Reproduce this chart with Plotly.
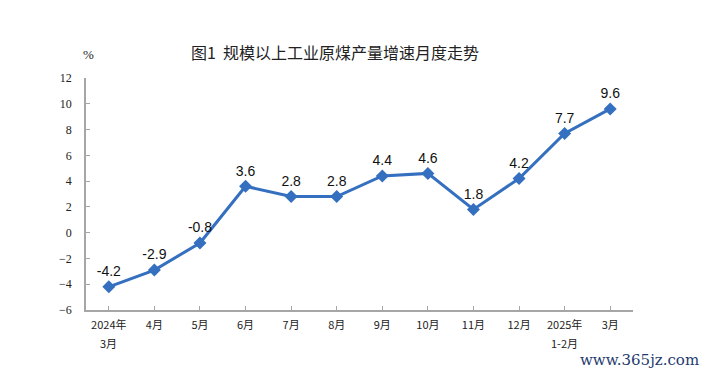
import plotly.graph_objects as go

categories = ["2024年<br>3月", "4月", "5月", "6月", "7月", "8月", "9月", "10月", "11月", "12月", "2025年<br>1-2月", "3月"]
values = [-4.2, -2.9, -0.8, 3.6, 2.8, 2.8, 4.4, 4.6, 1.8, 4.2, 7.7, 9.6]
y_ticks = [-6, -4, -2, 0, 2, 4, 6, 8, 10, 12]

line_color = "#3470bf"
axis_color = "#a6a6a6"

xs = list(range(len(categories)))
first_lines = [c.split("<br>")[0] for c in categories]
second_lines = [(i, c.split("<br>")[1]) for i, c in enumerate(categories) if "<br>" in c]

fig = go.Figure()
fig.add_trace(go.Scatter(
    x=xs, y=values,
    mode="lines+markers+text",
    line=dict(color=line_color, width=3),
    marker=dict(symbol="diamond", size=10, color=line_color),
    text=[f"{v:.1f}" for v in values],
    textposition="top center",
    textfont=dict(family="Liberation Sans, Arial", size=14, color="#111111"),
    cliponaxis=False,
    hoverinfo="skip",
))

annotations = [
    dict(text="图1  规模以上工业原煤产量增速月度走势", xref="paper", yref="paper",
         x=0.455, y=1.0, yshift=26, showarrow=False, xanchor="center", yanchor="middle",
         font=dict(family="Noto Sans CJK SC", size=16, color="#222222")),
    dict(text="%", xref="paper", yref="paper", x=0, y=1.0, yshift=24, xshift=2,
         showarrow=False, xanchor="center", yanchor="middle",
         font=dict(family="Liberation Serif", size=13, color="#222222")),
    dict(text="www.365jz.com", xref="paper", yref="paper", x=1.0, y=0, xshift=68, yshift=-50,
         showarrow=False, xanchor="right", yanchor="middle",
         font=dict(family="DejaVu Serif", size=15, color="#1f3b6e")),
]
for i, t in second_lines:
    annotations.append(dict(text=t, xref="x", yref="paper", x=i, y=0, yshift=-33,
                            showarrow=False, xanchor="center", yanchor="middle",
                            font=dict(family="Noto Sans CJK SC", size=11, color="#222222")))

fig.update_layout(
    width=705, height=374,
    margin=dict(l=86, r=72, t=78, b=64),
    paper_bgcolor="white", plot_bgcolor="white",
    showlegend=False,
    xaxis=dict(
        tickmode="array", tickvals=xs, ticktext=first_lines,
        range=[-0.5, len(categories) - 0.5],
        showgrid=False, zeroline=False,
        showline=True, linecolor=axis_color, linewidth=1.5,
        ticks="inside", ticklen=4, tickcolor=axis_color, tickson="boundaries",
        tickfont=dict(family="Noto Sans CJK SC", size=11, color="#222222"),
        ticklabelstandoff=4,
        automargin=False,
    ),
    yaxis=dict(
        range=[-6, 12], tickvals=y_ticks,
        showgrid=False, zeroline=False,
        showline=True, linecolor=axis_color, linewidth=1.5,
        ticks="inside", ticklen=4, tickcolor=axis_color,
        tickfont=dict(family="Liberation Serif, Times New Roman", size=12, color="#222222"),
        ticklabelstandoff=10,
        automargin=False,
    ),
    annotations=annotations,
)

fig.write_html("out.html", config={"displayModeBar": False},
               post_script="document.body.style.margin='0';")
